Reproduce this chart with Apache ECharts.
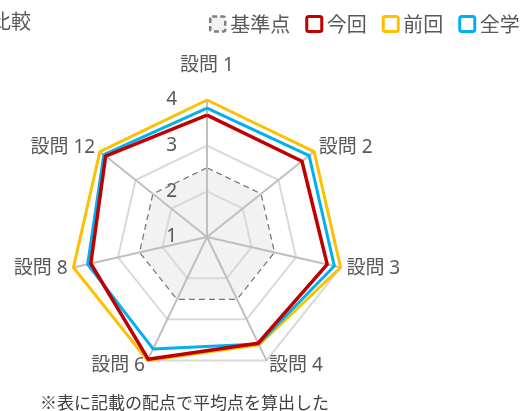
<!DOCTYPE html>
<html>
<head>
<meta charset="utf-8">
<script src="https://cdn.jsdelivr.net/npm/echarts@6/dist/echarts.min.js"></script>
<style>
html, body { margin: 0; padding: 0; background: #fff; }
#main { width: 524px; height: 411px; }
</style>
</head>
<body>
<div id="main"></div>
<script>
"use strict"

// clockwise from the top, as in the picture
const questions = ["設問 1", "設問 2", "設問 3", "設問 4", "設問 6", "設問 8", "設問 12"];
const baseScore = [2.5, 2.5, 2.5, 2.5, 2.5, 2.5, 2.5];
const thisTime = [3.67, 3.66, 3.70, 3.58, 3.97, 3.61, 3.84];
const lastTime = [4.0, 4.0, 4.0, 3.62, 4.0, 4.0, 4.0];
const wholeSchool = [3.82, 3.86, 3.86, 3.60, 3.72, 3.68, 3.89];
const seriesNames = ["基準点", "今回", "前回", "全学"];

const font = "'Noto Sans CJK JP', 'Noto Sans', sans-serif";
const latinFont = "'Noto Sans', 'Noto Sans CJK JP', sans-serif";
const gray = "#595959";

// echarts puts radar indicators counter-clockwise, so flip all but the first
const toRadar = arr => [arr[0]].concat(arr.slice(1).reverse());

const indicator = toRadar(questions).map((q, i) => ({
    name: q, min: 1, max: 4,
    axisLabel: { show: i === 0 }
}));

const chart = echarts.init(document.getElementById("main"), null, { renderer: "canvas" });

const legendIcon = (color, extra) => Object.assign({ color: "#fff", borderColor: color, borderWidth: 3 }, extra || {});

const option = {
    animation: false,
    title: [
        { text: "平均点比較", left: -74, top: 6, textStyle: { fontFamily: font, fontSize: 20, fontWeight: "normal", color: gray } },
        { text: "※表に記載の配点で平均点を算出した", left: 35, top: 389, textStyle: { fontFamily: font, fontSize: 17, fontWeight: "normal", color: "#404040" } }
    ],
    legend: {
        left: 204, top: 9, width: 600,
        itemWidth: 15, itemHeight: 15, itemGap: 15,
        icon: "path://M2,0 L13,0 Q15,0 15,2 L15,13 Q15,15 13,15 L2,15 Q0,15 0,13 L0,2 Q0,0 2,0 Z",
        textStyle: { fontFamily: font, fontSize: 20, color: gray },
        data: [
            { name: "基準点", itemStyle: legendIcon("#7f7f7f", { color: "#f2f2f2", borderWidth: 2.5, borderType: [5, 3] }) },
            { name: "今回", itemStyle: legendIcon("#c00000") },
            { name: "前回", itemStyle: legendIcon("#ffc000") },
            { name: "全学", itemStyle: legendIcon("#00b0f0") }
        ]
    },
    radar: {
        z: 2,
        center: [207, 237],
        radius: 137,
        startAngle: 90,
        splitNumber: 3,
        shape: "polygon",
        indicator: indicator,
        axisName: {
            color: gray, fontFamily: latinFont, fontSize: 19, lineHeight: 16,
            formatter: (v) => v === questions[0] ? v + "\n" : v
        },
        nameGap: 6,
        axisLabel: { show: false, color: gray, fontFamily: latinFont, fontSize: 19, margin: 30 },
        axisLine: { lineStyle: { color: "#bfbfbf", width: 2 } },
        splitLine: { lineStyle: { color: "#d9d9d9", width: 2 } },
        splitArea: { show: false }
    },
    series: [
        {
            // reference polygon sits under the grid
            type: "radar", z: 1, symbol: "none",
            lineStyle: { color: "#767676", width: 2.5, type: [6, 4] },
            areaStyle: { color: "#f2f2f2", opacity: 1 },
            data: [{ name: seriesNames[0], value: toRadar(baseScore), lineStyle: { color: "#767676", width: 2.5, type: [6, 4] } }]
        },
        {
            type: "radar", z: 3, symbol: "none",
            data: [
                { name: seriesNames[2], value: toRadar(lastTime), lineStyle: { color: "#ffc000", width: 3 } },
                { name: seriesNames[3], value: toRadar(wholeSchool), lineStyle: { color: "#00b0f0", width: 3 } },
                { name: seriesNames[1], value: toRadar(thisTime), lineStyle: { color: "#c00000", width: 3.5 } }
            ]
        }
    ]
};

chart.setOption(option);
</script>
</body>
</html>
